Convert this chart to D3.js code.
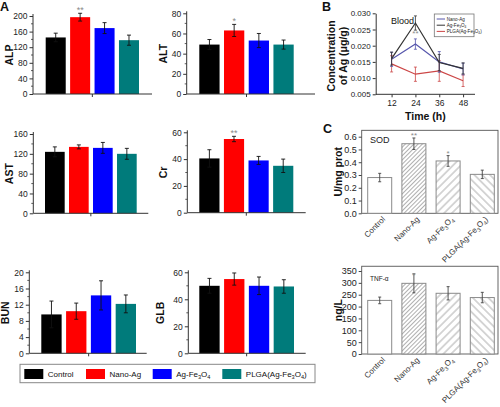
<!DOCTYPE html>
<html><head><meta charset="utf-8">
<script src="https://cdn.jsdelivr.net/npm/d3@7"></script>
<style>body{margin:0;background:#fff} svg{display:block;font-family:"Liberation Sans",Arial,sans-serif}</style>
</head><body><svg id="c" width="500" height="407"></svg>
<script>
// ---------- DATA ----------
const groups = ["Control", "Nano-Ag", "Ag-Fe3O4", "PLGA(Ag-Fe3O4)"];
const groupColors = ["#000000", "#ff0000", "#0000ff", "#007b7b"];

const ALP = [145, 197, 169, 138], ALPerr = [11, 10, 14, 13], ALPticks = [0, 40, 80, 120, 160, 200];
const ALT = [49, 63, 53, 49], ALTerr = [5, 6, 7, 4.5], ALTticks = [0, 20, 40, 60, 80];
const AST = [124, 134, 132, 120], ASTerr = [10, 4, 11, 11], ASTticks = [0, 40, 80, 120, 160];
const Cr = [40.5, 55, 39, 35], Crerr = [6.5, 2, 3, 5], Crticks = [0, 20, 40, 60];
const BUN = [9.6, 10.4, 14.3, 12.2], BUNerr = [3.3, 2, 3.6, 2.2], BUNticks = [0, 4, 8, 12, 16, 20];
const GLB = [50, 55, 50, 49.5], GLBerr = [5.5, 4.5, 6.5, 5], GLBticks = [0, 20, 40, 60];

const times = [12, 24, 36, 48];
const bSeries = ["Nano-Ag", "Ag-Fe3O4", "PLGA(Ag-Fe3O4)"];
const bNano = [0.0158, 0.0205, 0.0150, 0.0128], bNanoErr = [0.0022, 0.0016, 0.0032, 0.0018];
const bAgFe = [0.0160, 0.0270, 0.0148, 0.0130], bAgFeErr = [0.0020, 0.0022, 0.0025, 0.0017];
const bPLGA = [0.0144, 0.0112, 0.0122, 0.0092], bPLGAErr = [0.0025, 0.0022, 0.0032, 0.0018];
const bTicksY = [0.005, 0.010, 0.015, 0.020, 0.025, 0.030];

const SOD = [0.28, 0.545, 0.41, 0.305], SODerr = [0.033, 0.045, 0.042, 0.033];
const SODticks = [0, 0.1, 0.2, 0.3, 0.4, 0.5, 0.6];
const TNF = [226, 298, 256, 238], TNFerr = [14, 40, 28, 22];
const TNFticks = [0, 50, 100, 150, 200, 250, 300, 350];

// ---------- HELPERS ----------
const svg = d3.select("#c");
const defs = svg.append("defs");
function hatch(id, s, angle) {
  const p = defs.append("pattern").attr("id", id).attr("patternUnits", "userSpaceOnUse")
    .attr("width", s).attr("height", s).attr("patternTransform", `rotate(${angle})`);
  p.append("rect").attr("width", s).attr("height", s).attr("fill", "#fff");
  p.append("line").attr("x1", s / 2).attr("y1", 0).attr("x2", s / 2).attr("y2", s)
    .attr("stroke", "#9a9a9a").attr("stroke-width", 0.8);
}
hatch("hDense", 3, 45);
hatch("hSparse", 5.5, 45);
hatch("hBack", 5.5, -45);

function richText(sel, str, fs) {
  const parts = str.split(/(\d)/).filter(s => s.length);
  let shifted = false;
  parts.forEach(p => {
    const isSub = /^\d$/.test(p);
    const t = sel.append("tspan").text(p);
    if (isSub) { t.attr("font-size", fs * 0.7).attr("dy", fs * 0.28); shifted = true; }
    else if (shifted) { t.attr("dy", -fs * 0.28); shifted = false; }
  });
}
function styleAxis(g, color, fs) {
  g.selectAll("path").attr("stroke", color);
  g.selectAll("line").attr("stroke", color);
  g.selectAll("text").attr("fill", "#222").attr("font-size", fs)
    .attr("font-family", "'Liberation Sans', Arial, sans-serif");
}
function errBar(g, x, yTop, yBot, cap, color, w) {
  g.append("line").attr("x1", x).attr("x2", x).attr("y1", yTop).attr("y2", yBot).attr("stroke", color).attr("stroke-width", w);
  g.append("line").attr("x1", x - cap).attr("x2", x + cap).attr("y1", yTop).attr("y2", yTop).attr("stroke", color).attr("stroke-width", w);
  g.append("line").attr("x1", x - cap).attr("x2", x + cap).attr("y1", yBot).attr("y2", yBot).attr("stroke", color).attr("stroke-width", w);
}
function vTitle(x, y, text, fs) {
  svg.append("text").attr("transform", `translate(${x},${y}) rotate(-90)`)
    .attr("text-anchor", "middle").attr("dy", "0.35em").attr("font-weight", "bold")
    .attr("font-size", fs).attr("fill", "#111").text(text);
}

// panel letters
[["A", 0, 11], ["B", 322, 11], ["C", 323, 133]].forEach(([t, x, y]) =>
  svg.append("text").attr("x", x).attr("y", y).attr("font-weight", "bold").attr("font-size", 12.5).attr("fill", "#111").text(t));

// ---------- PANEL A ----------
const panelsA = [
  { name: "ALP", v: ALP, e: ALPerr, ticks: ALPticks, stars: ["", "**", "", ""], ax: 33, axR: 152, bL: 45.7, bR: 139, y0: 94, yT: 16, tx: 9 },
  { name: "ALT", v: ALT, e: ALTerr, ticks: ALTticks, stars: ["", "*", "", ""], ax: 186.7, axR: 315, bL: 199.3, bR: 293.7, y0: 94, yT: 13.3, tx: 163.5 },
  { name: "AST", v: AST, e: ASTerr, ticks: ASTticks, stars: ["", "", "", ""], ax: 33.3, axR: 148.3, bL: 45, bR: 136.7, y0: 213.3, yT: 134, tx: 9 },
  { name: "Cr", v: Cr, e: Crerr, ticks: Crticks, stars: ["", "**", "", ""], ax: 187.3, axR: 305.7, bL: 199.3, bR: 293.3, y0: 212.7, yT: 132.3, tx: 163.5 },
  { name: "BUN", v: BUN, e: BUNerr, ticks: BUNticks, stars: ["", "", "", ""], ax: 29.3, axR: 146.7, bL: 41.3, bR: 136, y0: 353.3, yT: 272.3, tx: 5.5 },
  { name: "GLB", v: GLB, e: GLBerr, ticks: GLBticks, stars: ["", "", "", ""], ax: 188.3, axR: 305.7, bL: 199.3, bR: 294, y0: 353.3, yT: 272.3, tx: 160 }
];
panelsA.forEach(p => {
  const top = p.ticks[p.ticks.length - 1];
  const y = d3.scaleLinear().domain([0, top]).range([p.y0, p.yT]);
  const x = d3.scaleBand().domain(groups).range([p.bL, p.bR]).paddingInner(0.18).paddingOuter(0);
  const g = svg.append("g");
  g.selectAll("rect.bar").data(p.v).join("rect").attr("class", "bar")
    .attr("x", (d, i) => x(groups[i])).attr("width", x.bandwidth())
    .attr("y", d => y(d)).attr("height", d => p.y0 - y(d))
    .attr("fill", (d, i) => groupColors[i]);
  p.v.forEach((d, i) => {
    const cx = x(groups[i]) + x.bandwidth() / 2;
    errBar(g, cx, y(d + p.e[i]), y(d - p.e[i]), 2, "#111", 0.9);
    if (p.stars[i]) g.append("text").attr("x", cx).attr("y", y(d + p.e[i]) - 0.5).attr("text-anchor", "middle")
      .attr("font-size", 9).attr("fill", "#8a8a8a").text(p.stars[i]);
  });
  const step = p.ticks[1] - p.ticks[0];
  p.ticks.slice(0, -1).forEach(t => g.append("line").attr("x1", p.ax - 2).attr("x2", p.ax)
    .attr("y1", y(t + step / 2)).attr("y2", y(t + step / 2)).attr("stroke", "#333").attr("stroke-width", 0.8));
  const ya = g.append("g").attr("transform", `translate(${p.ax},0)`)
    .call(d3.axisLeft(y).tickValues(p.ticks).tickSize(3.5).tickSizeOuter(0).tickPadding(2));
  styleAxis(ya, "#333", 8.5);
  ya.select("path.domain").attr("d", `M0,${p.y0}V${p.yT - 2}`);
  g.append("line").attr("x1", p.ax).attr("x2", p.axR).attr("y1", p.y0).attr("y2", p.y0).attr("stroke", "#333");
  const cxm = (p.bL + p.bR) / 2;
  g.append("line").attr("x1", cxm).attr("x2", cxm).attr("y1", p.y0).attr("y2", p.y0 + 3).attr("stroke", "#333");
  vTitle(p.tx, (p.y0 + p.yT) / 2, p.name, 10.5);
});

// legend A
const lg = svg.append("g");
lg.append("rect").attr("x", 20).attr("y", 364.3).attr("width", 295).attr("height", 18.4)
  .attr("fill", "#fff").attr("stroke", "#888").attr("stroke-width", 1);
const legX = [24.3, 86, 152.7, 222.3];
groups.forEach((gname, i) => {
  lg.append("rect").attr("x", legX[i]).attr("y", 369).attr("width", 19).attr("height", 10).attr("fill", groupColors[i]);
  const t = lg.append("text").attr("x", legX[i] + 23.5).attr("y", 376.8).attr("font-size", 8).attr("fill", "#111");
  richText(t, gname, 8);
});

// ---------- PANEL B ----------
(function () {
  const L = 375.7, R = 475, B0 = 94.3, T = 13.3;
  const x = d3.scaleLinear().domain([4, 54]).range([L, R]);
  const y = d3.scaleLinear().domain([0.005, 0.030]).range([B0, T]);
  const g = svg.append("g");
  const series = [
    { v: bPLGA, e: bPLGAErr, c: "#cc4646" },
    { v: bNano, e: bNanoErr, c: "#5656ac" },
    { v: bAgFe, e: bAgFeErr, c: "#333333" }
  ];
  const line = d3.line().x((d, i) => x(times[i])).y(d => y(d));
  series.forEach(s => {
    s.v.forEach((d, i) => errBar(g, x(times[i]), y(d + s.e[i]), y(d - s.e[i]), 1.5, s.c, 0.8));
    g.append("path").datum(s.v).attr("d", line).attr("fill", "none").attr("stroke", s.c).attr("stroke-width", 1.2);
  });
  const ya = g.append("g").attr("transform", `translate(${L},0)`)
    .call(d3.axisLeft(y).tickValues(bTicksY).tickFormat(d3.format(".3f")).tickSize(3).tickSizeOuter(0).tickPadding(2));
  styleAxis(ya, "#333", 8);
  const xa = g.append("g").attr("transform", `translate(0,${B0})`)
    .call(d3.axisBottom(x).tickValues(times).tickSize(3).tickSizeOuter(0).tickPadding(3));
  styleAxis(xa, "#333", 8.5);
  xa.select("path.domain").attr("d", `M${L},0H${R}`);
  g.append("text").attr("x", 391).attr("y", 23.5).attr("font-size", 9).attr("fill", "#111").text("Blood");
  g.append("text").attr("x", x(24)).attr("y", 36).attr("text-anchor", "middle").attr("font-size", 8).attr("fill", "#8a8a8a").text("**");
  g.append("rect").attr("x", 434.3).attr("y", 14).attr("width", 39.7).attr("height", 22.7)
    .attr("fill", "#fff").attr("stroke", "#777").attr("stroke-width", 0.8);
  const lc = ["#5656ac", "#333333", "#cc4646"];
  bSeries.forEach((n, i) => {
    const yy = 19 + i * 6.2;
    g.append("line").attr("x1", 436.7).attr("x2", 445).attr("y1", yy).attr("y2", yy).attr("stroke", lc[i]).attr("stroke-width", 1);
    const t = g.append("text").attr("x", 446.7).attr("y", yy + 1.6).attr("font-size", 4.6).attr("fill", "#222");
    richText(t, n, 4.6);
  });
  g.append("text").attr("x", (L + R) / 2).attr("y", 119.5).attr("text-anchor", "middle")
    .attr("font-weight", "bold").attr("font-size", 10.5).attr("fill", "#111").text("Time (h)");
  vTitle(331.5, 56, "Concentration", 10.5);
  vTitle(343.5, 56, "of Ag (\u03bcg/g)", 10.5);
})();

// ---------- PANEL C ----------
const fills = ["#ffffff", "url(#hDense)", "url(#hSparse)", "url(#hBack)"];
function drawC(cfg) {
  const L = 361.7, R = 498;
  const y = d3.scaleLinear().domain([0, cfg.tickTop]).range([cfg.y0, cfg.yTick]);
  const x = d3.scaleBand().domain(groups).range([367.7, 494.3]).paddingInner(0.298).paddingOuter(0);
  const g = svg.append("g");
  const yTop = y(cfg.frameTop);
  g.append("rect").attr("x", L).attr("y", yTop).attr("width", R - L).attr("height", cfg.y0 - yTop)
    .attr("fill", "none").attr("stroke", "#555").attr("stroke-width", 0.9);
  g.selectAll("rect.bar").data(cfg.v).join("rect").attr("class", "bar")
    .attr("x", (d, i) => x(groups[i])).attr("width", x.bandwidth())
    .attr("y", d => y(d)).attr("height", d => cfg.y0 - y(d))
    .attr("fill", (d, i) => fills[i]).attr("stroke", "#8a8a8a").attr("stroke-width", 1);
  cfg.v.forEach((d, i) => {
    const cx = x(groups[i]) + x.bandwidth() / 2;
    errBar(g, cx, y(d + cfg.e[i]), y(d - cfg.e[i]), 1.5, "#444", 0.9);
    if (cfg.stars[i]) g.append("text").attr("x", cx).attr("y", y(d + cfg.e[i]) + cfg.starDy).attr("text-anchor", "middle")
      .attr("font-size", 8).attr("fill", "#8a8a8a").text(cfg.stars[i]);
    const t = g.append("text").attr("transform", `translate(${cx + 4},${cfg.y0 + 4.5}) rotate(-45)`)
      .attr("text-anchor", "end").attr("dy", "0.35em").attr("font-size", 8).attr("fill", "#333");
    richText(t, groups[i], 8);
  });
  const ya = g.append("g").attr("transform", `translate(${L},0)`)
    .call(d3.axisLeft(y).tickValues(cfg.ticks).tickFormat(cfg.fmt).tickSize(3).tickSizeOuter(0).tickPadding(2));
  styleAxis(ya, "#444", cfg.tfs);
  ya.select("path.domain").remove();
  g.append("text").attr("x", 370).attr("y", cfg.labelY).attr("font-size", cfg.labelFs).attr("fill", "#222").text(cfg.label);
  vTitle(338, (cfg.y0 + yTop) / 2, cfg.title, 10.5);
}
drawC({ v: SOD, e: SODerr, ticks: SODticks, fmt: d3.format(".1f"), tickTop: 0.6, frameTop: 0.65,
  y0: 213.3, yTick: 136.7, stars: ["", "**", "*", ""], starDy: 0, title: "U/mg prot", label: "SOD", labelY: 143, labelFs: 9, tfs: 9 });
drawC({ v: TNF, e: TNFerr, ticks: TNFticks, fmt: d3.format("d"), tickTop: 350, frameTop: 370,
  y0: 354, yTick: 271, stars: ["", "*", "", ""], starDy: 4, title: "ng/L", label: "TNF-\u03b1", labelY: 280.5, labelFs: 6.5, tfs: 9 });
</script></body></html>
